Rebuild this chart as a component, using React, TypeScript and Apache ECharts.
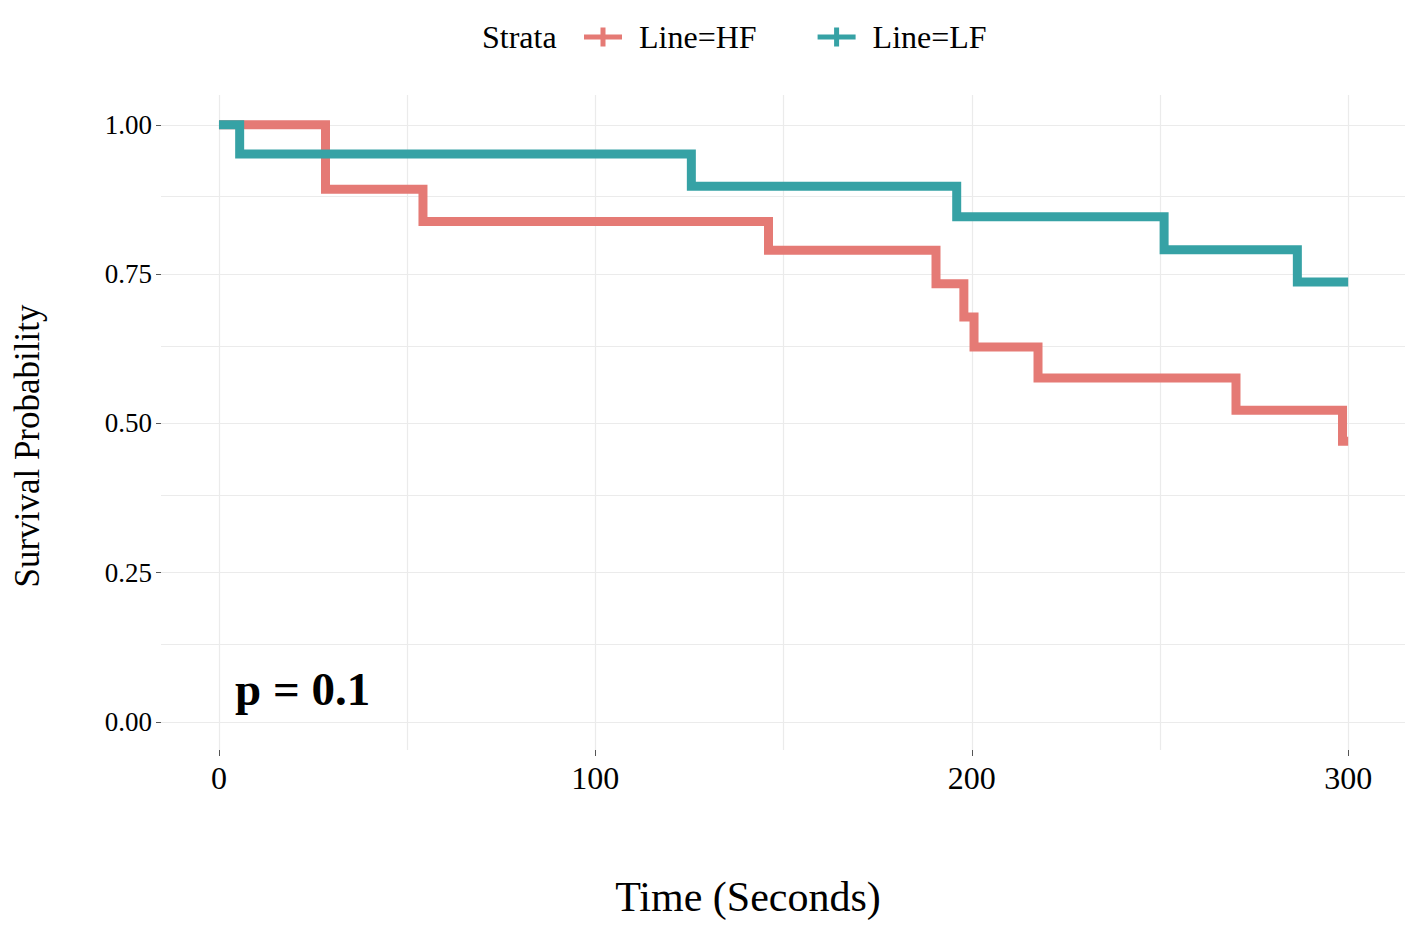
import React, { useEffect, useRef } from "react";
import * as echarts from "echarts";

// Kaplan-Meier step data (time in seconds, survival probability)
const hfTimes = [0, 28.3, 54.2, 146, 190.5, 197.9, 200.6, 217.6, 270.2, 298.5, 300];
const hfSurv = [1, 0.892, 0.838, 0.79, 0.734, 0.678, 0.628, 0.576, 0.522, 0.47, 0.47];
const lfTimes = [0, 5.5, 125.5, 196, 251.1, 286.5, 300];
const lfSurv = [1, 0.951, 0.897, 0.846, 0.791, 0.737, 0.737];

const xTicks = [0, 100, 200, 300];
const yTicks = [0, 0.25, 0.5, 0.75, 1];
const xGridLines = [0, 50, 100, 150, 200, 250, 300];
const yGridLines = [0, 0.125, 0.25, 0.375, 0.5, 0.625, 0.75, 0.875, 1];

const seriesNames = ["Line=HF", "Line=LF"];
const legendTitle = "Strata";
const pValueText = "p = 0.1";
const xTitle = "Time (Seconds)";
const yTitle = "Survival Probability";

const RED = "#E57A75";
const TEAL = "#36A2A5";
const SERIF = "'Liberation Serif', 'Times New Roman', serif";
const PLUS = "path://M0,7L38,7L38,12L0,12Z M16.5,0L21.5,0L21.5,19L16.5,19Z";

export default function App() {
  const ref = useRef<HTMLDivElement>(null);
  useEffect(() => {
    if (!ref.current) return;
    const chart = echarts.init(ref.current, null, { renderer: "svg" });
    const gridStyle = { color: "#EBEBEB", width: 1.2, type: "solid" as const };
    chart.setOption({
      animation: false,
      backgroundColor: "#fff",
      grid: { left: 161, right: 12, top: 95, bottom: 178, containLabel: false },
      xAxis: {
        type: "value",
        min: -15.4,
        max: 315.1,
        axisLine: { show: false, onZero: false },
        splitLine: { show: false },
        axisTick: { show: true, length: 6, lineStyle: { color: "#555", width: 1 }, customValues: xTicks },
        axisLabel: {
          customValues: xTicks,
          fontFamily: SERIF,
          fontSize: 32,
          color: "#000",
          margin: 12,
        },
      },
      yAxis: {
        type: "value",
        min: -0.047,
        max: 1.05,
        axisLine: { show: false, onZero: false },
        splitLine: { show: false },
        axisTick: { show: true, length: 5, lineStyle: { color: "#555", width: 1 }, customValues: yTicks },
        axisLabel: {
          customValues: yTicks,
          fontFamily: SERIF,
          fontSize: 27,
          color: "#000",
          margin: 9,
          formatter: (v: number) => v.toFixed(2),
        },
      },
      legend: {
        left: 579,
        top: 16,
        itemWidth: 38,
        itemHeight: 19,
        itemGap: 61,
        data: seriesNames.map((n) => ({ name: n, icon: PLUS })),
        textStyle: { fontFamily: SERIF, fontSize: 32, color: "#000", padding: [0, 0, 0, 12] },
      },
      graphic: [
        {
          type: "text",
          x: 482,
          y: 37,
          style: { text: legendTitle, font: `32px ${SERIF}`, fill: "#000", textVerticalAlign: "middle" },
        },
        {
          type: "text",
          x: 235,
          y: 689,
          style: { text: pValueText, font: `bold 47px ${SERIF}`, fill: "#000", textVerticalAlign: "middle" },
        },
        {
          type: "text",
          x: 748,
          y: 897,
          style: { text: xTitle, font: `42px ${SERIF}`, fill: "#000", textAlign: "center", textVerticalAlign: "middle" },
        },
        {
          type: "text",
          x: 27,
          y: 446,
          rotation: Math.PI / 2,
          style: { text: yTitle, font: `35px ${SERIF}`, fill: "#000", textAlign: "center", textVerticalAlign: "middle" },
        },
      ],
      series: [
        {
          name: "grid",
          type: "line",
          data: [],
          silent: true,
          z: 0,
          markLine: {
            silent: true,
            z: 0,
            symbol: "none",
            label: { show: false },
            lineStyle: gridStyle,
            data: [
              ...xGridLines.map((v) => ({ xAxis: v })),
              ...yGridLines.map((v) => ({ yAxis: v })),
            ],
          },
        },
        {
          name: seriesNames[0],
          type: "line",
          step: "end",
          showSymbol: false,
          symbol: "none",
          color: RED,
          itemStyle: { color: RED },
          lineStyle: { color: RED, width: 9, cap: "butt", join: "miter" },
          data: hfTimes.map((t, i) => [t, hfSurv[i]]),
          z: 3,
        },
        {
          name: seriesNames[1],
          type: "line",
          step: "end",
          showSymbol: false,
          symbol: "none",
          color: TEAL,
          itemStyle: { color: TEAL },
          lineStyle: { color: TEAL, width: 9, cap: "butt", join: "miter" },
          data: lfTimes.map((t, i) => [t, lfSurv[i]]),
          z: 4,
        },
      ],
    });
    return () => chart.dispose();
  }, []);
  return <div ref={ref} style={{ position: "fixed", left: 0, top: 0, width: 1417, height: 928 }} />;
}
